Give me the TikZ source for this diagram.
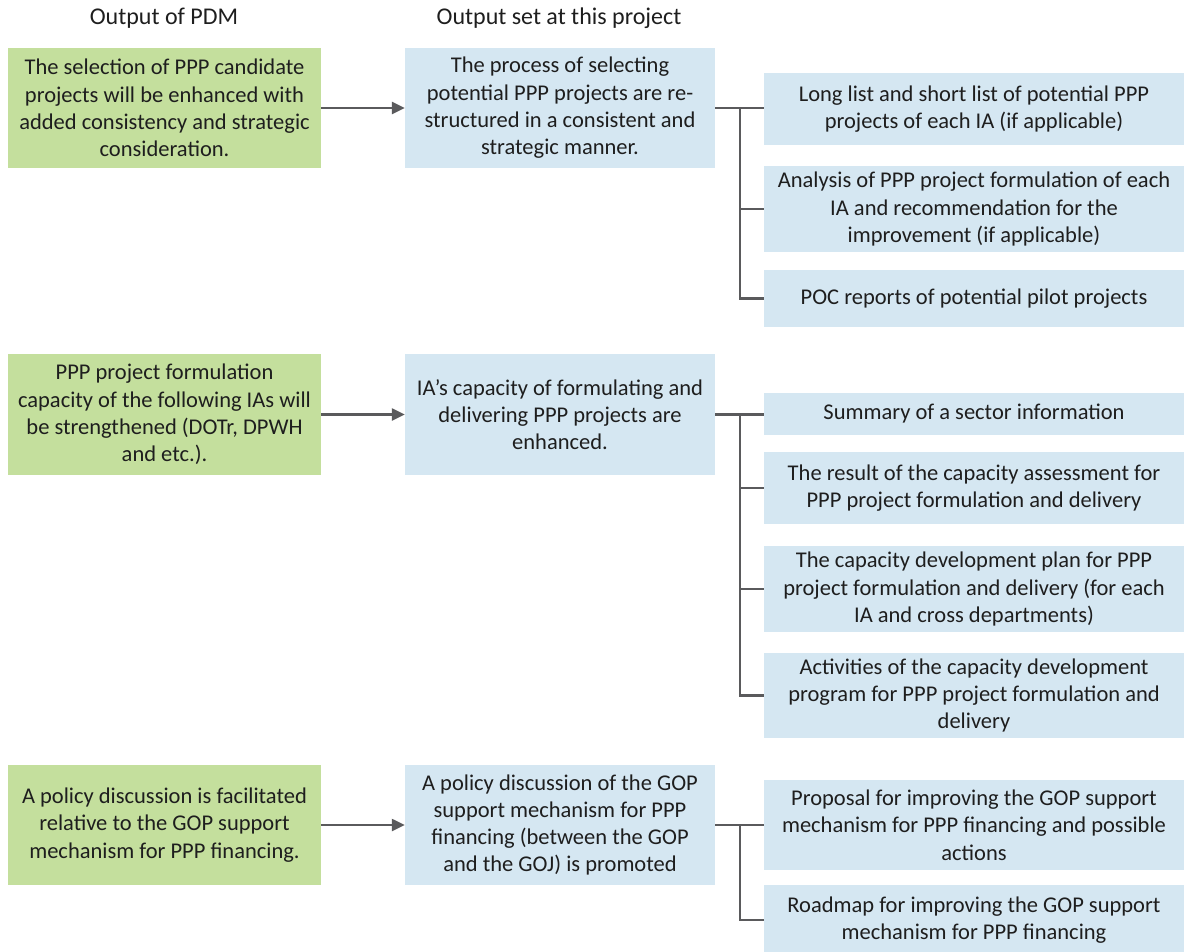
\documentclass[tikz,border=0pt]{standalone}
\usepackage{fontspec}
\setmainfont{Carlito}
\usetikzlibrary{arrows.meta}
\definecolor{pdmgreen}{RGB}{196,223,157}
\definecolor{setblue}{RGB}{213,231,242}
\definecolor{linegray}{RGB}{90,90,92}
\definecolor{txt}{RGB}{30,30,30}
\begin{document}
\begin{tikzpicture}[x=1pt,y=-1pt,
  lbl/.style={inner sep=0pt, align=center, text=txt,
    font=\fontsize{22.5}{27.3}\selectfont},
  greenbox/.style={lbl, fill=pdmgreen, minimum width=313pt},
  bluebox/.style={lbl, fill=setblue, minimum width=310pt},
  outbox/.style={lbl, fill=setblue, minimum width=420pt},
  head/.style={lbl, font=\fontsize{24}{28}\selectfont},
  conn/.style={draw=linegray, line width=2.4pt},
  arr/.style={conn, -{Triangle[length=13pt,width=12pt]}}]
\useasboundingbox (0,0) rectangle (1184,951);

% column headings
\node[head] (h1) at (164,18) {Output of PDM};
\node[head] (h2) at (559,18) {Output set at this project};

% ---- first row ----
\node[greenbox, minimum height=120pt] (g1) at (164.5,108)
  {The selection of PPP candidate\\projects will be enhanced with\\added consistency and strategic\\consideration.};
\node[bluebox, minimum height=120pt] (b1) at (560,108)
  {The process of selecting\\potential PPP projects are re-\\structured in a consistent and\\strategic manner.};
\node[outbox, minimum height=72pt] (r1) at (974,109)
  {Long list and short list of potential PPP\\projects of each IA (if applicable)};
\node[outbox, minimum height=86pt] (r2) at (974,209)
  {Analysis of PPP project formulation of each\\IA and recommendation for the\\improvement (if applicable)};
\node[outbox, minimum height=57pt] (r3) at (974,298.5)
  {POC reports of potential pilot projects};

% ---- second row ----
\node[greenbox, minimum height=121pt] (g2) at (164.5,414.5)
  {PPP project formulation\\capacity of the following IAs will\\be strengthened (DOTr, DPWH\\and etc.).};
\node[bluebox, minimum height=121pt] (b2) at (560,414.5)
  {IA’s capacity of formulating and\\delivering PPP projects are\\enhanced.};
\node[outbox, minimum height=42pt] (r4) at (974,414)
  {Summary of a sector information};
\node[outbox, minimum height=72pt] (r5) at (974,488)
  {The result of the capacity assessment for\\PPP project formulation and delivery};
\node[outbox, minimum height=86pt] (r6) at (974,589)
  {The capacity development plan for PPP\\project formulation and delivery (for each\\IA and cross departments)};
\node[outbox, minimum height=85pt] (r7) at (974,695.5)
  {Activities of the capacity development\\program for PPP project formulation and\\delivery};

% ---- third row ----
\node[greenbox, minimum height=120pt] (g3) at (164.5,825)
  {A policy discussion is facilitated\\relative to the GOP support\\mechanism for PPP financing.};
\node[bluebox, minimum height=120pt] (b3) at (560,825)
  {A policy discussion of the GOP\\support mechanism for PPP\\financing (between the GOP\\and the GOJ) is promoted};
\node[outbox, minimum height=90pt] (r8) at (974,825)
  {Proposal for improving the GOP support\\mechanism for PPP financing and possible\\actions};
\node[outbox, minimum height=70pt] (r9) at (974,920)
  {Roadmap for improving the GOP support\\mechanism for PPP financing};

% arrows from PDM outputs to project outputs
\draw[arr] (g1.east) -- (b1.west);
\draw[arr] (g2.east) -- (b2.west);
\draw[arr] (g3.east) -- (b3.west);

% tree connectors
\coordinate (j1) at (740,108);
\coordinate (j2) at (740,414);
\coordinate (j3) at (740,825);

\draw[conn] (b1.east) -- (r1.west |- b1.east);
\draw[conn] (j1) |- (r3.west);
\draw[conn] (j1 |- r2.west) -- (r2.west);

\draw[conn] (b2.east) -- (r4.west |- b2.east);
\draw[conn] (j2) |- (r7.west);
\draw[conn] (j2 |- r5.west) -- (r5.west);
\draw[conn] (j2 |- r6.west) -- (r6.west);

\draw[conn] (b3.east) -- (r8.west |- b3.east);
\draw[conn] (j3) |- (r9.west);
\end{tikzpicture}
\end{document}
